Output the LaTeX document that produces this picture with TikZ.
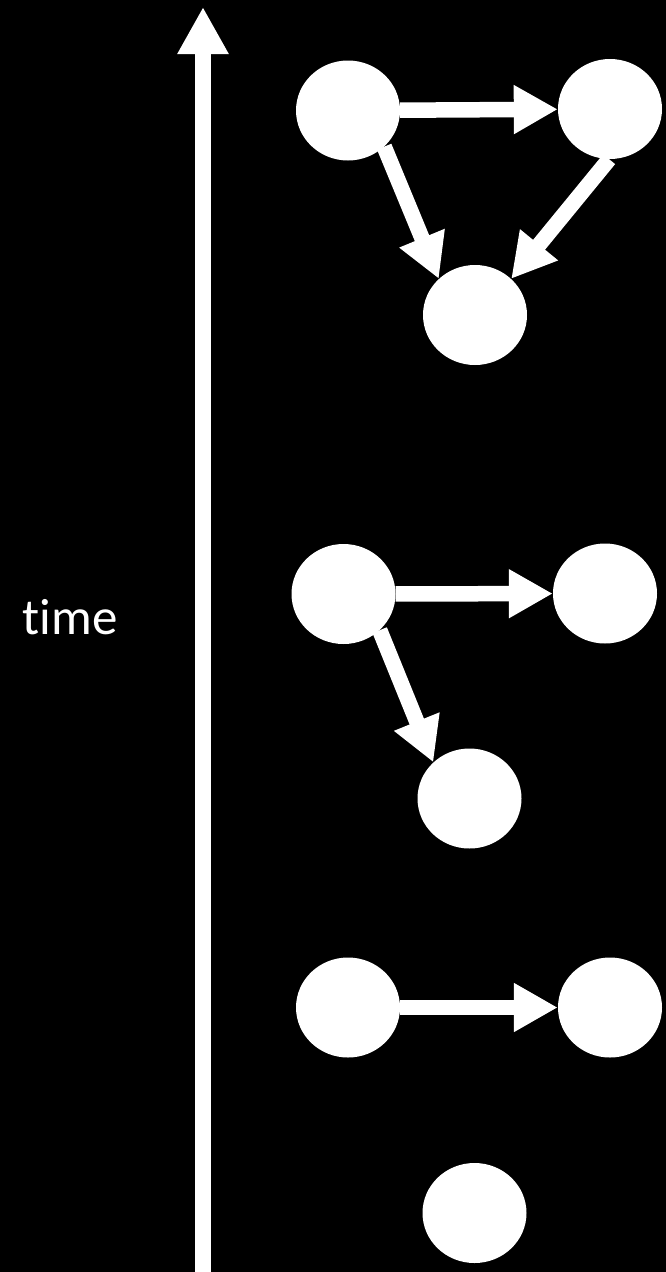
\documentclass[tikz,border=0pt]{standalone}
\usepackage{fontspec}
\setmainfont{Carlito}[Ligatures=NoCommon]
\usetikzlibrary{arrows.meta,shapes.geometric}
\begin{document}
\begin{tikzpicture}[x=1pt,y=-1pt,
  ev/.style={ellipse,fill=white,draw=none,minimum width=104pt,minimum height=100pt,inner sep=0pt},
  arr/.style={white,line width=15.5pt,-{Triangle[length=44pt,width=46pt]}},
  tarr/.style={white,line width=16pt,-{Triangle[length=47pt,width=48pt]}},
  lbl/.style={white,font=\fontsize{51pt}{60pt}\selectfont,inner sep=0pt}]
\useasboundingbox (0,0) rectangle (666,1272);
\fill[black] (0,0) rectangle (666,1272);
% time axis
\coordinate (tbot) at (203,1272);
\coordinate (ttop) at (203,7);
\draw[tarr] (tbot) -- (ttop);
\node[lbl,anchor=base] (tlabel) at (70,634) {time};
% group 1
\node[ev] (A1) at (348,110.5) {};
\node[ev] (B1) at (610,109) {};
\node[ev] (C1) at (475,315) {};
\draw[arr] (A1) -- (B1);
\draw[arr] (A1.-45) -- (C1.135);
\draw[arr] (B1.-91) -- (C1.45);
% group 2
\node[ev] (A2) at (343.5,594) {};
\node[ev] (B2) at (605,593.5) {};
\node[ev] (C2) at (469.5,798.5) {};
\draw[arr] (A2) -- (B2);
\draw[arr] (A2.-45) -- (C2.135);
% group 3
\node[ev] (A3) at (348,1007.5) {};
\node[ev] (B3) at (610,1007.5) {};
\draw[arr] (A3) -- (B3);
% group 4
\node[ev] (C3) at (474.5,1213) {};
\end{tikzpicture}
\end{document}
